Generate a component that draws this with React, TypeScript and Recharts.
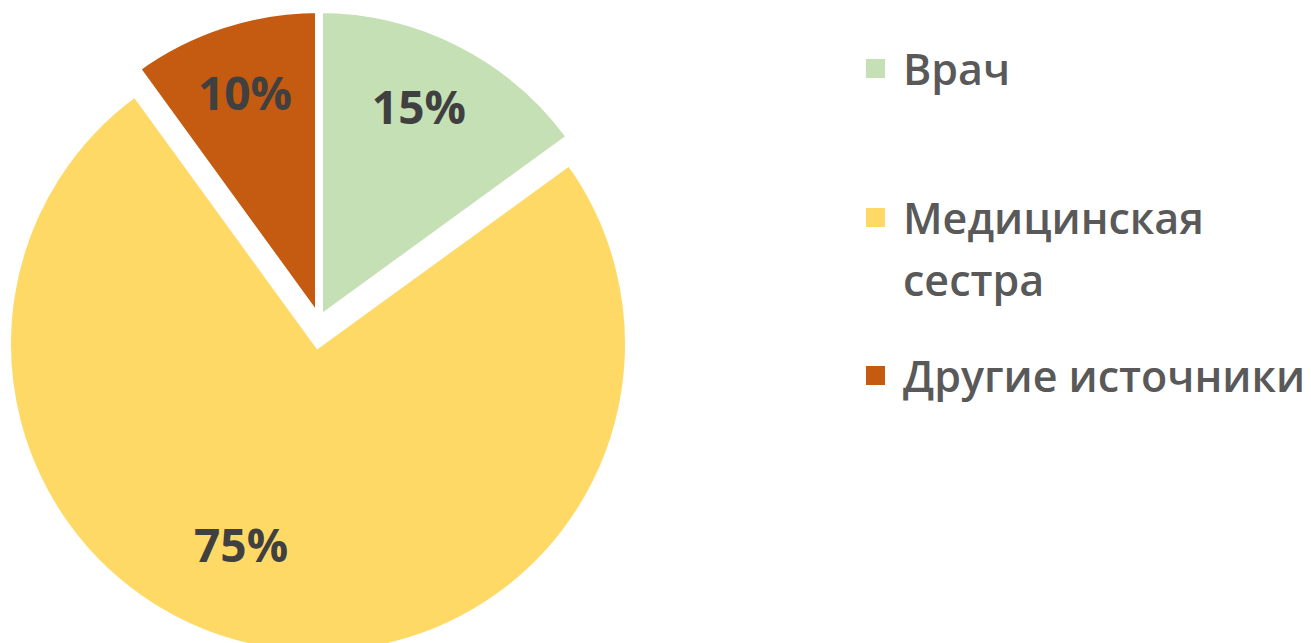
import { PieChart, Pie, Cell, Legend } from 'recharts'

const categories = ['Врач', 'Медицинская сестра', 'Другие источники']
const shares = [15, 75, 10]
const legendLines = [['Врач'], ['Медицинская', 'сестра'], ['Другие источники']]

const colors = ['#C5E0B4', '#FFD966', '#C55A11']
const data = categories.map((name, i) => ({ name, value: shares[i] }))

const RAD = Math.PI / 180
const R = 311
const EXPLODED = 1 // the nurse slice is pulled out
// label placement tweaks per slice (Excel "best fit" moves the big one a bit)
const labelRatio = [0.76, 0.69, 0.77]
const labelTurn = [2, -12, 0]

function renderLabel(visible: (i: number) => boolean) {
  return (props: any) => {
    const { cx, cy, midAngle, outerRadius, index, value } = props
    if (!visible(index)) return null
    const a = (midAngle + labelTurn[index]) * RAD
    const r = outerRadius * labelRatio[index]
    const x = cx + r * Math.cos(a)
    const y = cy - r * Math.sin(a)
    return (
      <text x={x} y={y} fill="#404040" textAnchor="middle" dominantBaseline="central"
        style={{ fontFamily: '"Open Sans", sans-serif', fontSize: 46, fontWeight: 700 }}>
        {`${value}%`}
      </text>
    )
  }
}

const legendTops = [48, 197, 355]

function LegendBox() {
  return (
    <div style={{ position: 'relative', width: 450, height: 420 }}>
      {legendLines.map((lines, i) => (
        <div key={i} style={{ position: 'absolute', left: 0, top: legendTops[i] }}>
          <div style={{ position: 'absolute', left: 6, top: 11, width: 19, height: 19, background: colors[i] }} />
          <div style={{
            marginLeft: 43, fontFamily: '"Open Sans", sans-serif', fontSize: 43, fontWeight: 600,
            color: '#595959', lineHeight: '62px', whiteSpace: 'nowrap', marginTop: -10,
          }}>
            {lines.map((l, j) => <div key={j}>{l}</div>)}
          </div>
        </div>
      ))}
    </div>
  )
}

export default function App() {
  return (
    <div style={{ position: 'absolute', left: 0, top: 0, width: 1311, height: 643, background: '#fff' }}>
      <PieChart width={1311} height={643} margin={{ top: 0, right: 0, bottom: 0, left: 0 }}>
        <Pie data={data} dataKey="value" nameKey="name" cx={319} cy={320} outerRadius={R}
          startAngle={90} endAngle={-270} isAnimationActive={false} legendType="none"
          labelLine={false} label={renderLabel(i => i !== EXPLODED)}>
          {data.map((d, i) => (
            <Cell key={d.name} fill={i === EXPLODED ? 'none' : colors[i]}
              stroke={i === EXPLODED ? 'none' : '#fff'} strokeWidth={8} />
          ))}
        </Pie>
        <Pie data={data} dataKey="value" nameKey="name" cx={318} cy={344} outerRadius={R}
          startAngle={90} endAngle={-270} isAnimationActive={false} legendType="none"
          labelLine={false} label={renderLabel(i => i === EXPLODED)}>
          {data.map((d, i) => (
            <Cell key={d.name} fill={i === EXPLODED ? colors[i] : 'none'}
              stroke={i === EXPLODED ? '#fff' : 'none'} strokeWidth={8} />
          ))}
        </Pie>
        <Legend content={() => <LegendBox />}
          wrapperStyle={{ position: 'absolute', left: 860, top: 0, width: 450 }} />
      </PieChart>
    </div>
  )
}
